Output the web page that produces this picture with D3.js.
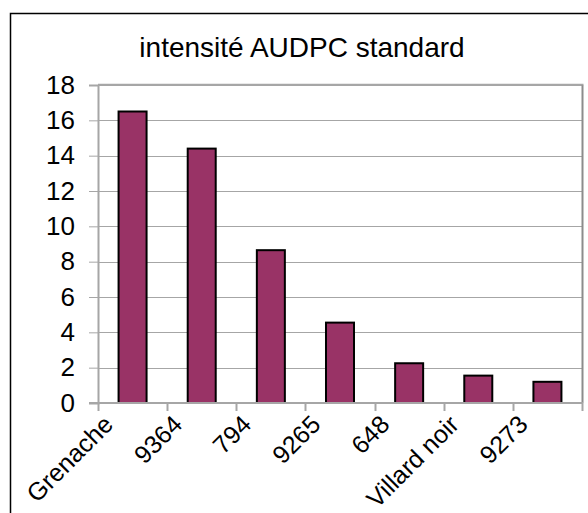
<!DOCTYPE html>
<html>
<head>
<meta charset="utf-8">
<script src="https://cdn.jsdelivr.net/npm/d3@7"></script>
<style>
  html, body { margin: 0; padding: 0; background: #fff; }
  svg { display: block; font-family: Arial, "Liberation Sans", sans-serif; }
</style>
</head>
<body>
<svg id="chart" width="588" height="513"></svg>
<script>
// Cultivars and their AUDPC intensity
const categories = ["Grenache", "9364", "794", "9265", "648", "Villard noir", "9273"];
const values = [16.5, 14.4, 8.65, 4.55, 2.25, 1.55, 1.2];
const yTicks = [0, 2, 4, 6, 8, 10, 12, 14, 16, 18];
const title = "intensité AUDPC standard";

const svg = d3.select("#chart");
const plot = { left: 98, right: 582, top: 85, bottom: 403 };
const fontFamily = "Arial, 'Liberation Sans', sans-serif";

// Outer chart frame
svg.append("rect")
  .attr("x", 10.5).attr("y", 13.5)
  .attr("width", 600).attr("height", 600)
  .attr("fill", "#fff").attr("stroke", "#000").attr("stroke-width", 1.5);

svg.append("text")
  .attr("x", 302).attr("y", 57)
  .attr("text-anchor", "middle")
  .attr("font-size", 28)
  .attr("fill", "#000")
  .text(title);

const x = d3.scaleBand()
  .domain(categories)
  .range([plot.left, plot.right])
  .paddingInner(0.595)
  .paddingOuter(0.2975);

const y = d3.scaleLinear()
  .domain([0, 18])
  .range([plot.bottom, plot.top]);

// Gridlines
svg.append("g")
  .selectAll("line")
  .data(yTicks.filter(d => d > 0))
  .join("line")
  .attr("x1", plot.left).attr("x2", plot.right)
  .attr("y1", d => Math.round(y(d)) + 0.5).attr("y2", d => Math.round(y(d)) + 0.5)
  .attr("stroke", "#a6a6a6").attr("stroke-width", 1);

// Plot area border (top and right)
svg.append("line")
  .attr("x1", plot.right + 0.5).attr("x2", plot.right + 0.5)
  .attr("y1", plot.top).attr("y2", plot.bottom)
  .attr("stroke", "#8c8c8c").attr("stroke-width", 2);
svg.append("line")
  .attr("x1", plot.left).attr("x2", plot.right + 1.5)
  .attr("y1", plot.top - 0.5).attr("y2", plot.top - 0.5)
  .attr("stroke", "#a6a6a6").attr("stroke-width", 1.5);

// Bars
svg.append("g")
  .selectAll("rect")
  .data(categories.map((c, i) => ({ c, v: values[i] })))
  .join("rect")
  .attr("x", d => x(d.c))
  .attr("y", d => y(d.v))
  .attr("width", x.bandwidth())
  .attr("height", d => y(0) - y(d.v))
  .attr("fill", "#993366")
  .attr("stroke", "#000")
  .attr("stroke-width", 2);

// Y axis
const yAxis = svg.append("g")
  .attr("transform", `translate(${plot.left},0)`)
  .call(d3.axisLeft(y).tickValues(yTicks).tickSize(9).tickPadding(14).tickFormat(d3.format("d")));
yAxis.select(".domain").attr("stroke", "#a6a6a6").attr("stroke-width", 2);
yAxis.selectAll(".tick line").attr("stroke", "#a6a6a6").attr("stroke-width", 1);
yAxis.selectAll(".tick text")
  .attr("font-size", 26).attr("fill", "#000")
  .attr("font-family", fontFamily);

// X axis: ticks at category boundaries
const step = x.step();
const bounds = d3.range(categories.length + 1).map(i => plot.left + i * step);
svg.append("line")
  .attr("x1", plot.left - 9).attr("x2", plot.right + 1)
  .attr("y1", plot.bottom).attr("y2", plot.bottom)
  .attr("stroke", "#a6a6a6").attr("stroke-width", 2);
svg.append("g")
  .selectAll("line")
  .data(bounds)
  .join("line")
  .attr("x1", d => Math.round(d) + 0.5).attr("x2", d => Math.round(d) + 0.5)
  .attr("y1", plot.bottom).attr("y2", plot.bottom + 8)
  .attr("stroke", "#a6a6a6").attr("stroke-width", 2);

// Category labels, rotated 45°
svg.append("g")
  .selectAll("text")
  .data(categories)
  .join("text")
  .attr("transform", d => `translate(${x(d) + x.bandwidth() / 2 - 18},${plot.bottom + 23}) rotate(-45)`)
  .attr("text-anchor", "end")
  .attr("font-size", 25)
  .attr("font-family", fontFamily)
  .attr("fill", "#000")
  .text(d => d);
</script>
</body>
</html>
